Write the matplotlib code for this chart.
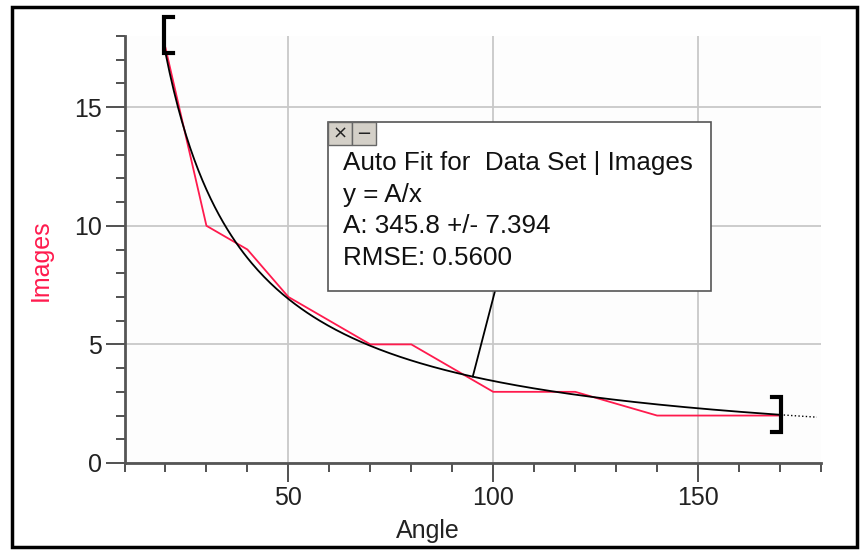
import matplotlib
matplotlib.use("Agg")
import matplotlib.pyplot as plt
import numpy as np
from matplotlib.patches import Rectangle

# measured data (Angle in degrees, number of images)
angle = [20, 30, 40, 50, 60, 70, 80, 90, 100, 110, 120, 140, 150, 160, 170]
images = [17.5, 10, 9, 7, 6, 5, 5, 4, 3, 3, 3, 2, 2, 2, 2]

# auto fit y = A/x
A = 345.8
fit_lines = ["Auto Fit for  Data Set | Images",
             "y = A/x",
             "A: 345.8 +/- 7.394",
             "RMSE: 0.5600"]

x_major = [50, 100, 150]
y_major = [0, 5, 10, 15]

W, H = 862, 550
plt.rcParams['font.family'] = ['Liberation Sans', 'DejaVu Sans']

def fx(x):
    return x / W

def fy(y):
    return 1 - y / H

fig = plt.figure(figsize=(W / 100, H / 100), dpi=100)
fig.patch.set_facecolor('white')
ax = fig.add_axes([fx(124.5), fy(463), fx(821) - fx(124.5), fy(36) - fy(463)])
ax.set_facecolor('#fdfdfd')

ax.set_xlim(10, 180)
ax.set_ylim(0, 18)

ax.set_xticks(x_major)
ax.set_xticks(np.arange(10, 181, 10), minor=True)
ax.set_yticks(y_major)
ax.set_yticks(np.arange(0, 19, 1), minor=True)

for s in ['top', 'right']:
    ax.spines[s].set_visible(False)
for s in ['left', 'bottom']:
    ax.spines[s].set_color('#555555')
    ax.spines[s].set_linewidth(2)

ax.tick_params(which='major', length=13.5, width=1.2, color='#333333',
               labelsize=18, pad=3, labelcolor='#222222')
ax.tick_params(which='minor', length=6.5, width=1.2, color='#333333')
ax.grid(True, which='major', color='#c8c8c8', linewidth=1.3)
ax.set_axisbelow(True)

# data and fit
ax.plot(angle, images, color='#ff1a4d', linewidth=1.3, zorder=3)
xf = np.linspace(20, 170, 300)
ax.plot(xf, A / xf, color='black', linewidth=1.3, zorder=4)
xe = np.linspace(170, 179, 20)
ax.plot(xe, A / xe, color='black', linewidth=1.0, linestyle=':', zorder=4)

# range brackets
ax.plot([21.8, 19.6, 19.6, 21.8], [18.8, 18.8, 17.3, 17.3], color='black',
        linewidth=3, clip_on=False, zorder=5, solid_joinstyle='miter')
ax.plot([168.0, 170.2, 170.2, 168.0], [2.8, 2.8, 1.3, 1.3], color='black',
        linewidth=3, clip_on=False, zorder=5, solid_joinstyle='miter')

ax.set_xlabel('Angle', fontsize=18, color='#222222')
ax.set_ylabel('Images', fontsize=18, color='#ff1a4d')
ax.xaxis.set_label_coords((428 - 124.5) / (821 - 124.5), -0.13)
ax.yaxis.set_label_coords(-(124.5 - 53) / (821 - 124.5), (463 - 260) / (463 - 36))

# leader line from fit box to curve
ax.annotate('', xy=(95, A / 95), xycoords='data',
            xytext=(fx(495), fy(291)), textcoords='figure fraction',
            arrowprops=dict(arrowstyle='-', color='black', lw=1.3,
                            shrinkA=0, shrinkB=0))

# fit box
box = Rectangle((fx(328), fy(291)), fx(711) - fx(328), fy(122) - fy(291),
                transform=fig.transFigure, facecolor='white',
                edgecolor='#555555', linewidth=1.2, zorder=5)
fig.patches.append(box)
for bx, sym in [(328, '×'), (352, '−')]:
    b = Rectangle((fx(bx), fy(145)), fx(24), fy(122) - fy(145),
                  transform=fig.transFigure, facecolor='#d4d0c8',
                  edgecolor='#666666', linewidth=1.0, zorder=6)
    fig.patches.append(b)
    fig.text(fx(bx + 12), fy(134), sym, ha='center', va='center',
             fontsize=13, color='#222222', zorder=7,
             family=['DejaVu Sans'])

for i, line in enumerate(fit_lines):
    fig.text(fx(343), fy(170 + 31.7 * i), line, ha='left', va='baseline',
             fontsize=18.7, color='#111111', zorder=7)

# outer frame
frame = Rectangle((fx(12), fy(547)), fx(845), fy(7) - fy(547),
                  transform=fig.transFigure, fill=False,
                  edgecolor='black', linewidth=2.5, zorder=8)
fig.patches.append(frame)

fig.savefig('out.png', dpi=100)
